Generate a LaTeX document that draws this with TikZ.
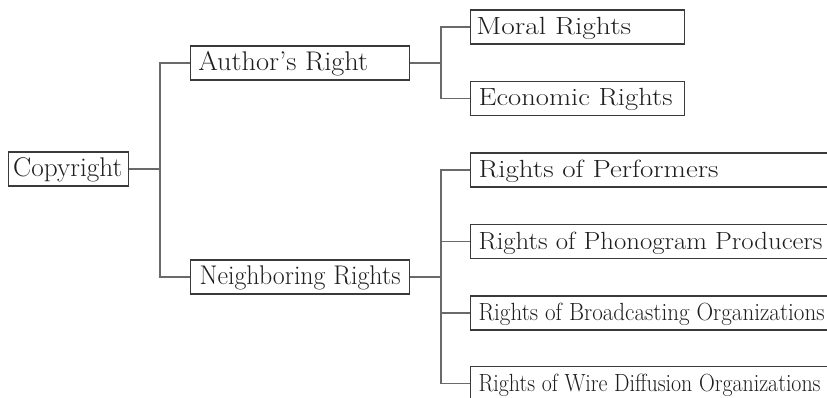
\documentclass[tikz,border=0pt]{standalone}
\usepackage{graphicx}
\definecolor{boxline}{HTML}{3A3A3A}
\definecolor{conn}{HTML}{6A6A6A}
\definecolor{ink}{HTML}{1E1E1E}
\newcommand\bx[5]{\hbox to #1pt{\hspace*{#2pt}\resizebox{#3pt}{1.08\height}{\fontsize{#4pt}{#4pt}\selectfont #5}\hss}}
\tikzset{
  box/.style={draw=boxline, line width=1.1pt, inner sep=0pt, anchor=west,
    text height=24.5pt, text depth=9.5pt, text=ink},
  link/.style={draw=conn, line width=1.1pt},
}
\begin{document}
\begin{tikzpicture}[x=1pt,y=-1pt]
\useasboundingbox (0,0) rectangle (827,398);
\clip (0,0) rectangle (827,398);
\node[box] (copy) at (8,169) {\bx{120}{4.7}{109}{25}{Copyright}};
\node[box] (author) at (190,63) {\bx{219}{7.7}{170}{25}{Author's Right}};
\node[box] (neigh) at (190,277) {\bx{219}{9}{201}{25}{Neighboring Rights}};
\node[box] (moral) at (470,27) {\bx{214}{5.7}{155}{23}{Moral Rights}};
\node[box] (econ) at (470,98.5) {\bx{214}{8}{194}{23}{Economic Rights}};
\node[box] (perf) at (470,170) {\bx{370}{8}{240}{23}{Rights of Performers}};
\node[box] (phono) at (470,241.5) {\bx{370}{8}{344}{23}{Rights of Phonogram Producers}};
\node[box] (broad) at (470,313) {\bx{370}{8}{346}{23}{Rights of Broadcasting Organizations}};
\node[box] (wire) at (470,383.5) {\bx{370}{8}{342}{23}{Rights of Wire Diffusion Organizations}};
\coordinate (j1) at (160,169);
\coordinate (j2) at (441,63);
\coordinate (j3) at (441,277);
\draw[link] (copy.east) -- (j1);
\draw[link] (author.west) -| (j1) |- (neigh.west);
\draw[link] (author.east) -- (j2);
\draw[link] (moral.west) -| (j2) |- (econ.west);
\draw[link] (neigh.east) -- (j3);
\draw[link] (perf.west) -| (j3) |- (wire.west);
\draw[link] (phono.west) -| (j3);
\draw[link] (broad.west) -| (j3);
\end{tikzpicture}
\end{document}
